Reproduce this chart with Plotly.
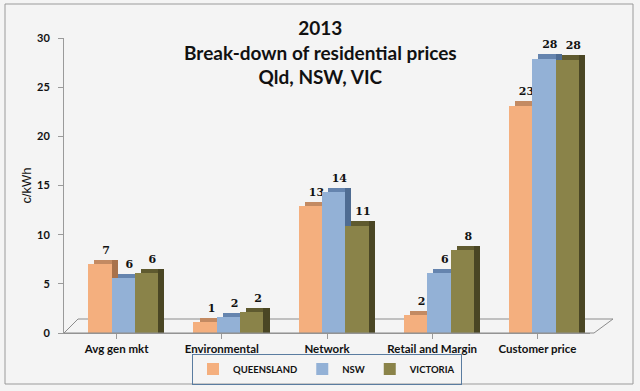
import plotly.graph_objects as go

categories = ["Avg gen mkt", "Environmental", "Network", "Retail and Margin", "Customer price"]
series_names = ["QUEENSLAND", "NSW", "VICTORIA"]
qld = [7.0, 1.1, 12.9, 1.8, 23.1]
nsw = [5.6, 1.6, 14.3, 6.1, 27.9]
vic = [6.1, 2.1, 10.9, 8.4, 27.8]
y_ticks = [0, 5, 10, 15, 20, 25, 30]

values = [qld, nsw, vic]
front_colors = ["#F4AF7E", "#93B1D6", "#8A8349"]
top_colors = ["#C38A62", "#6584AE", "#5F5A2F"]
side_colors = ["#A8724C", "#4F6C92", "#4A4624"]

x_idx = list(range(len(categories)))
w = 0.222          # bar width (category units)
offsets = [-0.27, -0.048, 0.174]
d = 0.058          # depth shift in x
e = 0.45           # depth shift in y

fig = go.Figure()

# depth faces (drawn first)
for s in range(3):
    v = values[s]
    fig.add_trace(go.Bar(
        x=x_idx, y=v, base=[e] * len(v), offset=offsets[s] + d, width=w,
        marker=dict(color=top_colors[s], line=dict(width=0)),
        text=[f"{val:.0f}" for val in v], textposition="outside",
        textfont=dict(family="DejaVu Serif", size=11, color="#111111", weight="bold"),
        cliponaxis=False, showlegend=False, hoverinfo="skip"))
    fig.add_trace(go.Bar(
        x=x_idx, y=[val + e for val in v], base=[0] * len(v), offset=offsets[s] + w, width=d,
        marker=dict(color=side_colors[s], line=dict(width=0)),
        showlegend=False, hoverinfo="skip"))

# front faces
for s in range(3):
    v = values[s]
    fig.add_trace(go.Bar(
        x=x_idx, y=v, base=[0] * len(v), offset=offsets[s], width=w,
        name=series_names[s],
        marker=dict(color=front_colors[s], line=dict(width=0))))

# plot-area geometry in pixels: left 64, right 590, top 38, bottom 333
L, R, T, B = 64, 590, 38, 333
PW, PH = R - L, B - T
def px(xp):
    return (xp - L) / PW
def py(yp):
    return (B - yp) / PH

shapes = []
# outer frame
shapes.append(dict(type="rect", xref="paper", yref="paper",
                   x0=px(5), x1=px(633), y0=py(384), y1=py(4),
                   line=dict(color="#9a9a9a", width=1), fillcolor="rgba(0,0,0,0)", layer="below"))
# 3D floor outline
floor_col = "#8c8c8c"
shapes.append(dict(type="line", xref="paper", yref="paper", x0=px(64), y0=py(333), x1=px(78), y1=py(319),
                   line=dict(color=floor_col, width=1)))
shapes.append(dict(type="line", xref="paper", yref="paper", x0=px(78), y0=py(319), x1=px(613), y1=py(319),
                   line=dict(color=floor_col, width=1), layer="below"))
shapes.append(dict(type="line", xref="paper", yref="paper", x0=px(613), y0=py(319), x1=px(594), y1=py(333),
                   line=dict(color=floor_col, width=1)))
shapes.append(dict(type="line", xref="paper", yref="paper", x0=px(64), y0=py(333), x1=px(594), y1=py(333),
                   line=dict(color=floor_col, width=1)))

annotations = [dict(text="<b>2013<br>Break-down of residential prices<br>Qld, NSW, VIC</b>",
                    xref="paper", yref="paper", x=px(320), y=py(14), xanchor="center", yanchor="top",
                    showarrow=False, align="center",
                    font=dict(family="Lato", size=19, color="#111111"))]

fig.update_layout(
    width=640, height=391,
    margin=dict(l=L, r=640 - R, t=T, b=391 - B, autoexpand=False),
    paper_bgcolor="#f4f4f4", plot_bgcolor="rgba(0,0,0,0)",
    barmode="overlay",
    xaxis=dict(range=[-0.5, 4.5], tickvals=x_idx, ticktext=categories, automargin=False,
               showline=True, linecolor="#9a9a9a", ticks="outside", tickson="boundaries",
               ticklen=5, tickcolor="#9a9a9a", showgrid=False, zeroline=False,
               tickfont=dict(family="Lato", size=11.5, color="#111111", weight="bold")),
    yaxis=dict(range=[0, 30], tickvals=y_ticks, showline=True, linecolor="#9a9a9a", automargin=False,
               ticks="outside", ticklen=5, tickcolor="#9a9a9a", showgrid=False, zeroline=False,
               ticklabelstandoff=6,
               tickfont=dict(family="Lato", size=11, color="#111111", weight="bold"),
               title=dict(text="c/kWh", standoff=2,
                          font=dict(family="Liberation Sans", size=13, color="#111111"))),
    legend=dict(orientation="h", x=0.5, xanchor="center", y=py(369), yanchor="middle",
                bordercolor="#5a7ca0", borderwidth=1, bgcolor="rgba(0,0,0,0)",
                font=dict(family="Lato", size=9.5, color="#111111", weight="bold"),
                itemwidth=30, traceorder="normal", tracegroupgap=0),
    shapes=shapes, annotations=annotations,
    bargap=0, showlegend=True,
)

fig.write_html("out.html", config={"displayModeBar": False},
               post_script="document.body.style.margin='0';")
